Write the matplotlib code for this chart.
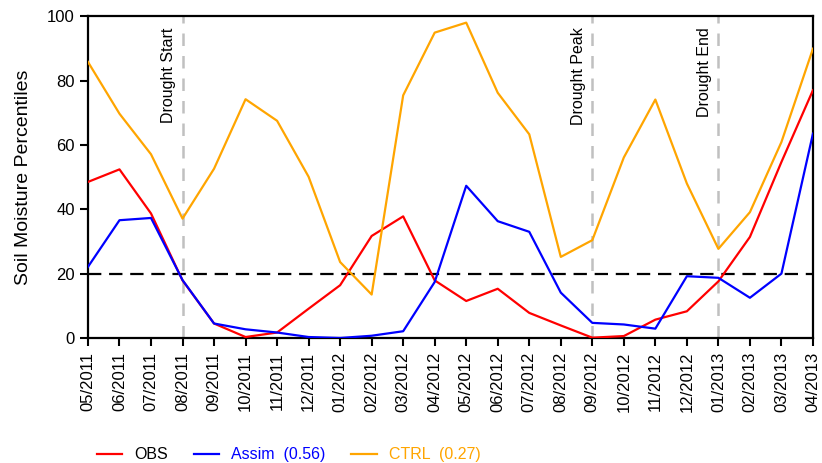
import numpy as np
import matplotlib
matplotlib.use("Agg")
import matplotlib.pyplot as plt

months = ["05/2011", "06/2011", "07/2011", "08/2011", "09/2011", "10/2011",
          "11/2011", "12/2011", "01/2012", "02/2012", "03/2012", "04/2012",
          "05/2012", "06/2012", "07/2012", "08/2012", "09/2012", "10/2012",
          "11/2012", "12/2012", "01/2013", "02/2013", "03/2013", "04/2013"]

obs = [48.5, 52.4, 38.7, 17.9, 4.5, 0.3, 1.7, 9.1, 16.4, 31.7, 37.8, 17.9,
       11.5, 15.3, 7.8, 3.9, 0.1, 0.6, 5.7, 8.3, 17.6, 31.4, 54.7, 77.0]
assim = [22.1, 36.6, 37.3, 18.0, 4.5, 2.7, 1.7, 0.3, 0.0, 0.7, 2.1, 17.4,
         47.3, 36.3, 33.0, 14.1, 4.7, 4.2, 2.9, 19.2, 18.7, 12.5, 20.0, 63.5]
ctrl = [85.8, 69.7, 57.1, 37.1, 52.6, 74.2, 67.5, 50.1, 23.6, 13.5, 75.4, 94.9,
        98.0, 76.2, 63.3, 25.2, 30.4, 56.1, 74.1, 48.0, 27.7, 39.1, 60.9, 89.9]

events = {"Drought Start": "08/2011", "Drought Peak": "09/2012", "Drought End": "01/2013"}
threshold = 20

plt.rcParams['font.family'] = ['Liberation Sans', 'DejaVu Sans']

x = np.arange(len(months))

fig = plt.figure(figsize=(8.22, 4.63), dpi=100)
ax = fig.add_axes([0.107, 0.27, 0.882, 0.695])

# drought markers
for label, m in events.items():
    i = months.index(m)
    ax.axvline(i, color='#c0c0c0', linestyle=(0, (5, 4)), linewidth=1.8, zorder=1)
    ax.text(i - 0.2, 96.5, label, rotation=90, ha='right', va='top', fontsize=11.5)

ax.axhline(threshold, color='black', linestyle=(0, (6, 3.5)), linewidth=1.6, zorder=2)

l1, = ax.plot(x, obs, color='red', linewidth=1.6, zorder=3)
l2, = ax.plot(x, assim, color='blue', linewidth=1.6, zorder=3)
l3, = ax.plot(x, ctrl, color='orange', linewidth=1.6, zorder=3)

ax.set_xlim(0, len(months) - 1)
ax.set_ylim(0, 100)
ax.set_xticks(x)
ax.set_xticklabels(months, rotation=90, fontsize=12)
ax.set_yticks([0, 20, 40, 60, 80, 100])
ax.tick_params(axis='both', direction='out', length=6, width=1.5, labelsize=12)
ax.tick_params(axis='x', pad=4)
for s in ax.spines.values():
    s.set_linewidth(1.6)
ax.set_ylabel("Soil Moisture Percentiles", fontsize=14, labelpad=11)

fig.legend([l1, l2, l3], ["OBS", "Assim  (0.56)", "CTRL  (0.27)"],
           loc='center', bbox_to_anchor=(0.351, 0.018), ncol=3,
           frameon=False, handlelength=1.6, handletextpad=0.75, columnspacing=1.6,
           fontsize=11.5, labelcolor=['black', 'blue', 'orange'])

fig.savefig("out.png", dpi=100)
